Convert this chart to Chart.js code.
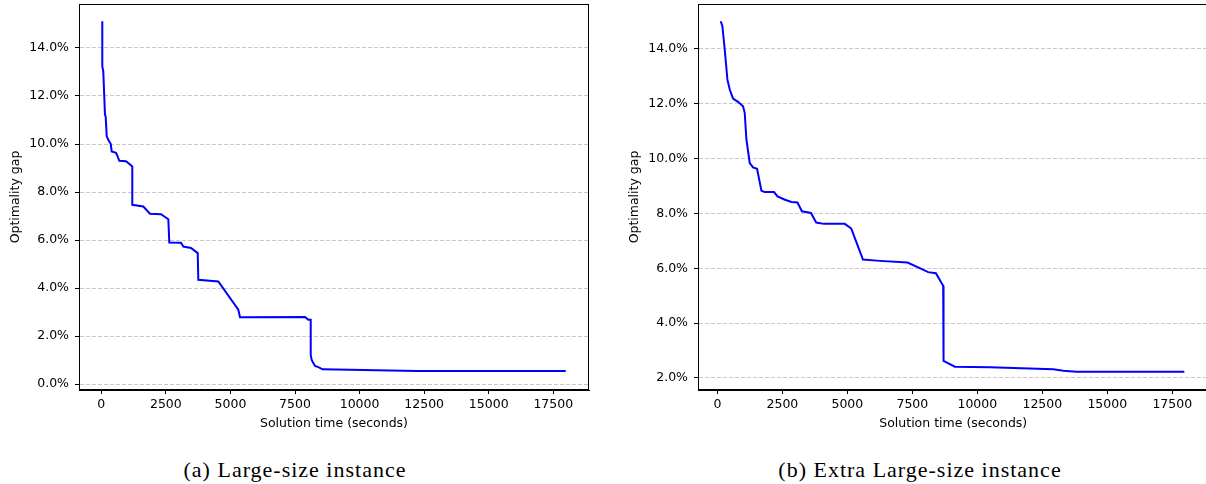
<!DOCTYPE html>
<html>
<head>
<meta charset="utf-8">
<script src="https://cdn.jsdelivr.net/npm/chart.js@4.4.0/dist/chart.umd.min.js"></script>
<style>
  html, body { margin: 0; padding: 0; background: #fff; width: 1206px; height: 484px; overflow: hidden; }
  .panel { position: absolute; top: 0; width: 600px; height: 440px; }
  .caption {
    position: absolute; top: 457px; white-space: nowrap; color: #000;
    font-family: "Liberation Serif", serif; font-size: 22px; letter-spacing: 1px;
    transform: translateX(-50%);
  }
</style>
</head>
<body>
<div class="panel" style="left:0px"><canvas id="chartLarge" width="600" height="440"></canvas></div>
<div class="panel" style="left:619px"><canvas id="chartXL" width="600" height="440"></canvas></div>
<div class="caption" style="left:295px">(a) Large-size instance</div>
<div class="caption" style="left:920px">(b) Extra Large-size instance</div>

<script>
// Solution time (s) and optimality gap (%) for the large-size instance
const largeTime = [39, 39, 77, 143, 170, 209, 271, 364, 403, 569, 635, 697, 956, 1045, 1200, 1200,
  1626, 1886, 2312, 2595, 2633, 3086, 3175, 3473, 3733, 3756, 4530, 5305, 5370, 7888, 8016, 8108,
  8108, 8146, 8209, 8274, 8403, 8572, 12212, 17982];
const largeGap = [15.11, 13.23, 13.03, 11.22, 11.15, 10.32, 10.18, 10.01, 9.69, 9.63, 9.48, 9.30, 9.28, 9.21, 9.07, 7.47,
  7.40, 7.10, 7.08, 6.87, 5.90, 5.89, 5.73, 5.67, 5.46, 4.35, 4.28, 3.10, 2.79, 2.80, 2.68, 2.68,
  1.22, 1.01, 0.88, 0.76, 0.71, 0.62, 0.55, 0.55];

// Solution time (s) and optimality gap (%) for the extra large-size instance
const xlTime = [127, 192, 281, 385, 474, 601, 793, 986, 1051, 1116, 1244, 1371, 1525, 1694, 1821, 2179,
  2310, 2600, 2850, 3080, 3250, 3600, 3800, 4100, 4900, 5150, 5600, 6249, 7315, 7723, 8108, 8405,
  8686, 8700, 9136, 10484, 12921, 13306, 13821, 17964];
const xlGap = [15.01, 14.83, 13.98, 12.88, 12.52, 12.19, 12.07, 11.91, 11.66, 10.69, 9.84, 9.68, 9.63, 8.83, 8.78, 8.78,
  8.62, 8.50, 8.42, 8.40, 8.08, 8.02, 7.67, 7.62, 7.62, 7.45, 6.32, 6.27, 6.21, 6.03, 5.86, 5.82,
  5.36, 2.62, 2.41, 2.39, 2.32, 2.26, 2.23, 2.23];

// Tick values
const timeTicks = [0, 2500, 5000, 7500, 10000, 12500, 15000, 17500];
const largeGapTicks = [0, 2, 4, 6, 8, 10, 12, 14];
const xlGapTicks = [2, 4, 6, 8, 10, 12, 14];

const TICK_FONT = { family: "'DejaVu Sans', sans-serif", size: 12.5 };
const INK = '#000';

// Draws the closed box around the plotting area
const frameBox = {
  id: 'frameBox',
  afterDatasetsDraw(chart) {
    const { ctx, chartArea: a } = chart;
    ctx.save();
    ctx.strokeStyle = INK;
    ctx.lineWidth = 1;
    const l = Math.round(a.left) + 0.5, t = Math.round(a.top) + 0.5;
    const r = Math.round(a.right) - 0.5, b = Math.round(a.bottom) - 0.5;
    ctx.strokeRect(l, t, r - l, b - t);
    ctx.restore();
  }
};

function gapChart(id, times, gaps, gapTicks, xMin, xMax, yMin, yMax, rightPad) {
  const points = times.map((t, i) => ({ x: t, y: gaps[i] }));
  return new Chart(document.getElementById(id), {
    type: 'line',
    data: {
      datasets: [{
        data: points,
        borderColor: '#0000ff',
        borderWidth: 2,
        pointRadius: 0,
        tension: 0,
        fill: false
      }]
    },
    options: {
      responsive: false,
      animation: false,
      layout: { padding: { left: 0, right: rightPad, top: 4, bottom: 0 } },
      plugins: { legend: { display: false }, tooltip: { enabled: false } },
      scales: {
        x: {
          type: 'linear',
          min: xMin, max: xMax,
          afterBuildTicks: s => { s.ticks = timeTicks.map(v => ({ value: v })); },
          afterFit: s => { s.height = 50; s.paddingLeft = 0; s.paddingRight = 0; },
          grid: { drawOnChartArea: false, drawTicks: true, tickLength: 4, tickColor: INK, tickWidth: 1 },
          border: { display: true, color: INK, width: 1 },
          ticks: { color: INK, font: TICK_FONT, padding: 3, maxRotation: 0, autoSkip: false,
                   callback: v => String(v) },
          title: { display: true, text: 'Solution time (seconds)', color: INK, font: TICK_FONT,
                   padding: { top: 0, bottom: 9 } }
        },
        y: {
          type: 'linear',
          min: yMin, max: yMax,
          afterBuildTicks: s => { s.ticks = gapTicks.map(v => ({ value: v })); },
          afterFit: s => { s.width = 79; s.paddingTop = 0; s.paddingBottom = 0; },
          grid: { color: '#c8c8c8', lineWidth: 1, drawTicks: true, tickLength: 4, tickColor: INK, tickWidth: 1 },
          border: { display: true, color: INK, width: 1, dash: [4, 2] },
          ticks: { color: INK, font: TICK_FONT, padding: 6, autoSkip: false,
                   callback: v => v.toFixed(1) + '%' },
          title: { display: true, text: 'Optimality gap', color: INK, font: TICK_FONT,
                   padding: { top: 8, bottom: 0 } }
        }
      }
    },
    plugins: [frameBox]
  });
}

gapChart('chartLarge', largeTime, largeGap, largeGapTicks, -863, 18882, -0.24, 15.83, 11);
gapChart('chartXL', xlTime, xlGap, xlGapTicks, -747, 18894, 1.56, 15.64, 10.5);
</script>
</body>
</html>
